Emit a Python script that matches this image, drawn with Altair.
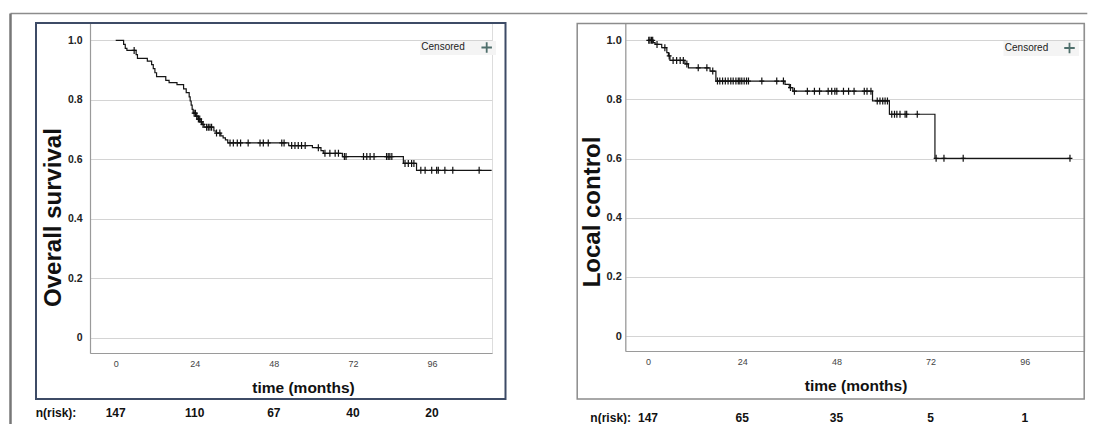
import altair as alt
import pandas as pd

FONT = "Liberation Sans"

# ---------------- data ----------------
# Left panel: Overall survival (Kaplan-Meier steps)
os_step_t = [0, 2.4, 2.9, 3.4, 6.2, 6.6, 9.6, 10.9, 11.4, 11.9, 12.4, 15.2, 16.2, 18.6, 20.6, 21.4,
             22.3, 22.6, 22.9, 23.2, 23.5, 24.3, 25.0, 25.6, 26.2, 26.8, 29.8, 30.5, 31.9, 32.6, 33.3,
             34.0, 52.5, 59.7, 62.3, 63.0, 68.8, 87.3, 91.3, 114.1]
os_step_s = [1.0, 0.986, 0.973, 0.966, 0.952, 0.939, 0.930, 0.918, 0.905, 0.891, 0.878, 0.865, 0.858,
             0.851, 0.837, 0.824, 0.810, 0.796, 0.782, 0.768, 0.755, 0.745, 0.735, 0.726, 0.717, 0.708,
             0.695, 0.688, 0.679, 0.672, 0.665, 0.655, 0.646, 0.639, 0.629, 0.620, 0.609, 0.586, 0.563,
             0.563]
os_cens_t = [5.6, 23.8, 24.2, 24.6, 25.1, 25.5, 26.0, 26.5, 27.6, 28.1, 28.6, 29.1, 30.6, 31.6, 34.7,
             35.7, 36.9, 37.9, 40.2, 43.8, 44.8, 46.3, 50.4, 51.1, 53.4, 54.4, 55.4, 56.4, 57.5, 61.5,
             63.5, 65.0, 66.6, 67.6, 69.4, 69.9, 75.2, 76.2, 77.2, 78.4, 82.2, 82.7, 83.2, 83.8, 87.8,
             88.8, 89.8, 90.5, 92.6, 93.9, 95.9, 97.4, 97.9, 99.9, 102.3, 110.3]
os_risk = [147, 110, 67, 40, 20]

# Right panel: Local control
lc_step_t = [0, 1.35, 1.8, 3.5, 4.8, 5.2, 5.6, 9.4, 10.3, 15.8, 17.3, 34.9, 36.0, 36.9, 57.2, 61.5,
             73.1, 107.5]
lc_step_s = [1.0, 0.992, 0.986, 0.975, 0.958, 0.947, 0.932, 0.920, 0.907, 0.896, 0.862, 0.851, 0.840,
             0.828, 0.795, 0.750, 0.601, 0.601]
lc_cens_t = [0.2, 0.5, 0.9, 1.2, 2.3, 4.3, 5.4, 6.4, 7.3, 8.2, 9.0, 9.9, 12.8, 15.0, 16.5, 17.7, 18.3,
             19.0, 19.7, 20.4, 21.1, 21.7, 22.4, 23.0, 23.4, 23.9, 24.5, 25.1, 25.6, 29.0, 32.8, 34.5,
             36.3, 37.3, 40.6, 42.4, 43.7, 45.9, 46.8, 47.6, 48.1, 49.8, 51.1, 52.5, 55.1, 55.8, 56.8,
             58.4, 59.1, 59.8, 60.4, 61.0, 62.1, 62.8, 63.4, 64.2, 65.5, 65.9, 68.6, 73.4, 75.4, 80.3,
             107.5]
lc_risk = [147, 65, 35, 5, 1]

risk_t = [0, 24, 48, 72, 96]
x_ticks = [0, 24, 48, 72, 96]
y_ticks = [0, 0.2, 0.4, 0.6, 0.8, 1.0]


def s_at(t, ts, ss):
    v = ss[0]
    for a, b in zip(ts, ss):
        if a <= t:
            v = b
    return v


def panel(step_t, step_s, cens_t, risk_n, ytitle, w, h, x_dom, y_dom, g):
    steps = pd.DataFrame({"t": step_t, "s": step_s})
    cens = pd.DataFrame({"t": cens_t, "s": [s_at(t, step_t, step_s) for t in cens_t]})
    risk = pd.DataFrame({"t": risk_t, "n": [str(v) for v in risk_n]})
    one = pd.DataFrame({"k": [0]})

    x_axis = alt.Axis(values=x_ticks, title="time (months)", grid=False, ticks=False,
                      domain=True, domainColor="#9a9a9a", domainWidth=1.2,
                      labelFont=FONT, labelFontSize=9, labelColor="#444", labelPadding=6,
                      titleFont=FONT, titleFontSize=15.5, titleFontWeight="bold", titleColor="#111",
                      titleX=g["xtx"], titleY=34, titleAlign="center", titleBaseline="middle")
    y_axis = alt.Axis(values=y_ticks, labelExpr="datum.value == 0 ? '0' : format(datum.value, '.1f')",
                      grid=True, gridColor="#d4d4d4", gridWidth=1, ticks=False,
                      domain=True, domainColor="#9a9a9a", domainWidth=1.2,
                      labelFont=FONT, labelFontSize=g["ylfs"], labelFontWeight="bold", labelColor="#222",
                      labelPadding=g["ylp"],
                      title=ytitle, titleFont=FONT, titleFontSize=24, titleFontWeight="bold",
                      titleColor="#111", titleAngle=270, titleX=g["ytx"], titleY=g["yty"],
                      titleAlign="center", titleBaseline="middle")
    X = alt.X("t:Q", scale=alt.Scale(domain=x_dom, nice=False, zero=False), axis=x_axis)
    Y = alt.Y("s:Q", scale=alt.Scale(domain=y_dom, nice=False, zero=False), axis=y_axis)

    frame = alt.Chart(one).mark_rect(fillOpacity=0, stroke=g["fc"], strokeWidth=g["fw"]).encode(
        x=alt.value(g["fx"][0]), x2=alt.value(g["fx"][1]),
        y=alt.value(g["fy"][0]), y2=alt.value(g["fy"][1]))
    border_top = alt.Chart(one).mark_rule(color="#8c8c8c", strokeWidth=1.5).encode(
        x=alt.value(g["bt"][0]), x2=alt.value(g["bt"][1]), y=alt.value(-9.5))
    layers = [border_top]
    if g.get("bl") is not None:
        border_left = alt.Chart(one).mark_rule(color="#777777", strokeWidth=2.5).encode(
            x=alt.value(g["bl"]), y=alt.value(-9.5), y2=alt.value(401))
        layers.append(border_left)
    legbg = alt.Chart(one).mark_rect(color="#f4f4f4").encode(
        x=alt.value(g["lb"][0]), x2=alt.value(g["lb"][1]),
        y=alt.value(g["lb"][2]), y2=alt.value(g["lb"][3]))
    legtxt = alt.Chart(pd.DataFrame({"label": ["Censored"]})).mark_text(
        font=FONT, fontSize=10, color="#222", align="center", baseline="middle").encode(
        x=alt.value(g["lt"][0]), y=alt.value(g["lt"][1]), text="label:N")
    legplus = alt.Chart(one).mark_point(shape="M-1,0H1M0,-1V1", size=110, color="#4f6f6c",
                                        strokeWidth=1.8, filled=False, opacity=1).encode(
        x=alt.value(g["lp"][0]), y=alt.value(g["lp"][1]))
    line = alt.Chart(steps).mark_line(interpolate="step-after", color="#151515",
                                      strokeWidth=1.2).encode(x=X, y=Y)
    pts = alt.Chart(cens).mark_point(shape="M-0.7,0H0.7M0,-1V1", size=49, color="#111",
                                     strokeWidth=1.2, filled=False, opacity=1).encode(x=X, y=Y)
    risk_txt = alt.Chart(risk).mark_text(font=FONT, fontSize=12, fontWeight="bold", color="#111",
                                         align="center", baseline="middle").encode(
        x=X, y=alt.value(g["ry"]), text="n:N")
    risk_lab = alt.Chart(pd.DataFrame({"label": ["n(risk):"]})).mark_text(
        font=FONT, fontSize=12, fontWeight="bold", color="#111", align="center",
        baseline="middle").encode(x=alt.value(g["rl"]), y=alt.value(g["ry"]), text="label:N")
    layers += [frame, legbg, legtxt, legplus, line, pts, risk_txt, risk_lab]
    return alt.layer(*layers).properties(width=w, height=h)


left = panel(os_step_t, os_step_s, os_cens_t, os_risk, "Overall survival", 402, 330,
             [-7.8, 114.2], [-0.0514, 1.0582],
             dict(xtx=213, ylfs=10.5, ylp=8, ytx=-36.7, yty=194, fc="#3d4b66", fw=2,
                  fx=(-54, 415.5), fy=(0, 376), bt=(-79.5, 470), bl=-79.5,
                  lb=(330, 406, 18, 32), lt=(353, 24), lp=(396.7, 24.5), ry=390, rl=-34))
right = panel(lc_step_t, lc_step_s, lc_cens_t, lc_risk, "Local control", 459, 328,
              [-5.78, 111.15], [-0.0507, 1.0585],
              dict(xtx=230.3, ylfs=11, ylp=4, ytx=-32.6, yty=188.5, fc="#8c8c8c", fw=1.5,
                   fx=(-48.1, 458.9), fy=(0.5, 376), bt=(-65.3, 462), bl=None,
                   lb=(378.2, 453.7, 18, 33), lt=(401.2, 24.7), lp=(444.2, 25), ry=394.7, rl=-14.6))

chart = alt.hconcat(left, right, spacing=133.3, bounds="flush").properties(
    padding={"left": 0, "top": 3, "right": 0, "bottom": 0}
).configure_view(strokeWidth=0).configure(background="white")

chart.save("out.html", embed_options={"renderer": "svg", "actions": False})
